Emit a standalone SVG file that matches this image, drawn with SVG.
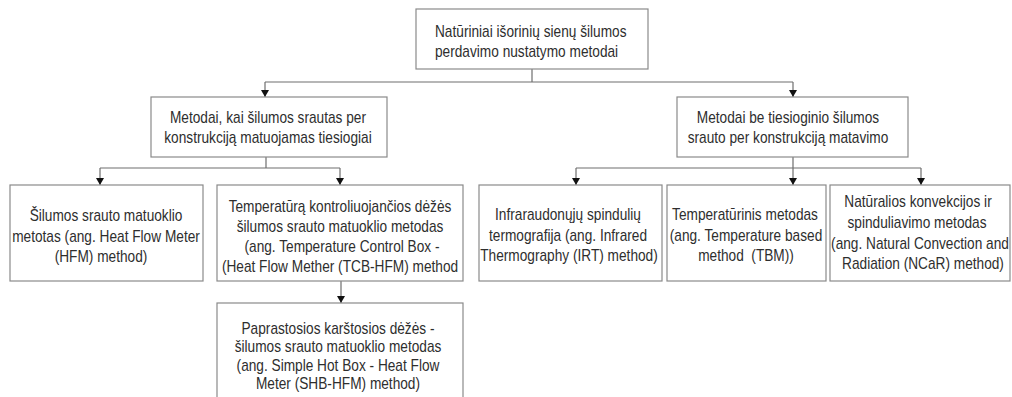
<svg xmlns="http://www.w3.org/2000/svg" width="1012" height="397" viewBox="0 0 1012 397">
<style>
.box{fill:#fff;stroke:#8a8a8a;stroke-width:1.2}
.ln{fill:none;stroke:#6e6e6e;stroke-width:1.2}
text{font-family:"Liberation Sans",Arial,sans-serif;font-size:16px;fill:#2e2e2e;text-anchor:middle}
.l{text-anchor:start}
</style>
<defs>
<marker id="ah" viewBox="0 0 7 8" refX="7" refY="4" markerWidth="7" markerHeight="8" markerUnits="userSpaceOnUse" orient="auto">
<path d="M0,0 L7,4 L0,8 Z" fill="#111"/>
</marker>
</defs>
<rect width="1012" height="397" fill="#fff"/>
<g id="connectors">
<path class="ln" d="M532,69 V82"/>
<path class="ln" d="M265,82 H793"/>
<path class="ln" d="M265,82 V97" marker-end="url(#ah)"/>
<path class="ln" d="M793,82 V97" marker-end="url(#ah)"/>
<path class="ln" d="M266,157 V168 M100,168 H340 M576,168 H921 M793,157 V168"/>
<path class="ln" d="M100,168 V185" marker-end="url(#ah)"/>
<path class="ln" d="M340,168 V185" marker-end="url(#ah)"/>
<path class="ln" d="M576,168 V185" marker-end="url(#ah)"/>
<path class="ln" d="M793,168 V185" marker-end="url(#ah)"/>
<path class="ln" d="M921,168 V185" marker-end="url(#ah)"/>
<path class="ln" d="M341,281 V303" marker-end="url(#ah)"/>
</g>
<g id="root">
<rect class="box" x="416" y="9" width="232" height="60"/>
<text class="l" transform="translate(435,0) scale(0.855,1)" x="0" y="37">Natūriniai išorinių sienų šilumos</text>
<text class="l" transform="translate(435,0) scale(0.855,1)" x="0" y="57">perdavimo nustatymo metodai</text>
</g>
<g id="direct">
<rect class="box" x="151" y="97" width="236" height="60"/>
<text transform="translate(268,0) scale(0.855,1)" x="0" y="123">Metodai, kai šilumos srautas per</text>
<text transform="translate(268,0) scale(0.855,1)" x="0" y="143">konstrukciją matuojamas tiesiogiai</text>
</g>
<g id="indirect">
<rect class="box" x="677" y="97" width="231" height="60"/>
<text transform="translate(788,0) scale(0.855,1)" x="0" y="123">Metodai be tiesioginio šilumos</text>
<text transform="translate(788,0) scale(0.855,1)" x="0" y="143">srauto per konstrukciją matavimo</text>
</g>
<g id="hfm">
<rect class="box" x="10" y="185" width="193" height="96"/>
<text transform="translate(106,0) scale(0.855,1)" x="0" y="221">Šilumos srauto matuoklio</text>
<text transform="translate(106,0) scale(0.855,1)" x="0" y="242">metotas (ang. Heat Flow Meter</text>
<text transform="translate(101,0) scale(0.855,1)" x="0" y="262">(HFM) method)</text>
</g>
<g id="tcb">
<rect class="box" x="217" y="185" width="246" height="96"/>
<text transform="translate(340,0) scale(0.855,1)" x="0" y="212">Temperatūrą kontroliuojančios dėžės</text>
<text transform="translate(340,0) scale(0.855,1)" x="0" y="232">šilumos srauto matuoklio metodas</text>
<text transform="translate(342,0) scale(0.855,1)" x="0" y="252">(ang. Temperature Control Box -</text>
<text transform="translate(340,0) scale(0.855,1)" x="0" y="272">(Heat Flow Mether (TCB-HFM) method</text>
</g>
<g id="shb">
<rect class="box" x="217" y="303" width="246" height="120"/>
<text transform="translate(338,0) scale(0.855,1)" x="0" y="334">Paprastosios karštosios dėžės -</text>
<text transform="translate(338,0) scale(0.855,1)" x="0" y="352">šilumos srauto matuoklio metodas</text>
<text transform="translate(338,0) scale(0.855,1)" x="0" y="371">(ang. Simple Hot Box - Heat Flow</text>
<text transform="translate(338,0) scale(0.855,1)" x="0" y="389">Meter (SHB-HFM) method)</text>
</g>
<g id="irt">
<rect class="box" x="479" y="185" width="183" height="96"/>
<text transform="translate(568,0) scale(0.855,1)" x="0" y="220">Infraraudonųjų spindulių</text>
<text transform="translate(568,0) scale(0.855,1)" x="0" y="241">termografija (ang. Infrared</text>
<text transform="translate(569,0) scale(0.855,1)" x="0" y="261">Thermography (IRT) method)</text>
</g>
<g id="tbm">
<rect class="box" x="667" y="185" width="159" height="96"/>
<text transform="translate(745,0) scale(0.855,1)" x="0" y="220">Temperatūrinis metodas</text>
<text transform="translate(746,0) scale(0.855,1)" x="0" y="241">(ang. Temperature based</text>
<text xml:space="preserve" transform="translate(746,0) scale(0.855,1)" x="0" y="261">method  (TBM))</text>
</g>
<g id="ncar">
<rect class="box" x="830" y="185" width="180" height="96"/>
<text transform="translate(918,0) scale(0.855,1)" x="0" y="207">Natūralios konvekcijos ir</text>
<text transform="translate(917,0) scale(0.855,1)" x="0" y="228">spinduliavimo metodas</text>
<text transform="translate(920,0) scale(0.855,1)" x="0" y="249">(ang. Natural Convection and</text>
<text transform="translate(923,0) scale(0.855,1)" x="0" y="269">Radiation (NCaR) method)</text>
</g>
</svg>
